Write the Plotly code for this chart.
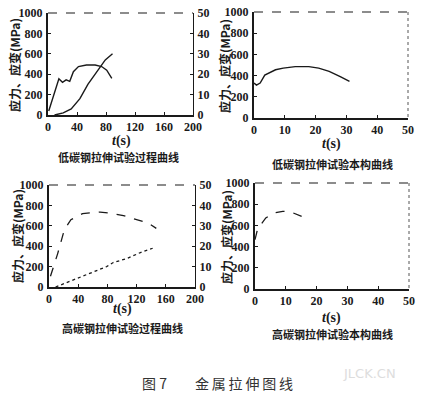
import plotly.graph_objects as go

W, H = 422, 400

# --- data ---
low_proc_t = [1, 8, 15, 20, 25, 30, 35, 42, 53, 65, 74, 81, 88]
low_proc_stress = [40, 200, 355, 320, 345, 330, 425, 475, 490, 490, 475, 440, 360]
low_proc_strain_t = [9, 21, 32, 44, 55, 67, 79, 89]
low_proc_strain = [0, 1, 3, 8, 15, 21, 27, 30]

low_spec_t = [0, 0.8, 2, 3.5, 7, 9.5, 13.4, 17.8, 21, 24.4, 28, 31]
low_spec_stress = [330, 310, 330, 405, 455, 470, 485, 485, 470, 440, 390, 345]

high_proc_t = [2, 12, 21, 30, 46, 70, 84, 102, 116, 135, 147]
high_proc_stress = [105, 330, 560, 660, 720, 735, 725, 700, 670, 630, 575]
high_proc_strain_t = [9, 23, 42, 65, 79, 88, 107, 126, 142]
high_proc_strain = [0, 2, 5, 8, 10, 12, 14, 17, 19]

high_spec_t = [0, 0.8, 1.9, 3.5, 6.2, 9, 11.7, 14.4, 17.2]
high_spec_stress = [465, 560, 607, 670, 717, 733, 726, 695, 660]

y_title = "应力、应变(MPa)"
x_title = "<i>t</i>(s)"
subtitles = ["低碳钢拉伸试验过程曲线", "低碳钢拉伸试验本构曲线",
             "高碳钢拉伸试验过程曲线", "高碳钢拉伸试验本构曲线"]
caption_num = "图 7"
caption_text = "金属拉伸图线"


def px_x(v):
    return v / W


def px_y(v):
    return 1 - v / H


SERIF = "Liberation Serif, Times New Roman, serif"
CJK = "Noto Sans CJK SC"
INK = "#1a1a1a"
tickfont = dict(family=SERIF, size=12, color=INK, weight="bold")

fig = go.Figure()
line = dict(color=INK, width=1.4)

fig.add_trace(go.Scatter(x=low_proc_t, y=low_proc_stress, mode="lines",
                         line=line, xaxis="x", yaxis="y"))
fig.add_trace(go.Scatter(x=low_proc_strain_t, y=low_proc_strain, mode="lines",
                         line=line, xaxis="x", yaxis="y2"))
fig.add_trace(go.Scatter(x=low_spec_t, y=low_spec_stress, mode="lines",
                         line=line, xaxis="x2", yaxis="y3"))
fig.add_trace(go.Scatter(x=high_proc_t, y=high_proc_stress, mode="lines",
                         line=dict(color=INK, width=1.3, dash="dash"),
                         xaxis="x3", yaxis="y4"))
fig.add_trace(go.Scatter(x=high_proc_strain_t, y=high_proc_strain, mode="lines",
                         line=dict(color=INK, width=1.3, dash="dot"),
                         xaxis="x3", yaxis="y5"))
fig.add_trace(go.Scatter(x=high_spec_t, y=high_spec_stress, mode="lines",
                         line=dict(color=INK, width=1.3, dash="dash"),
                         xaxis="x4", yaxis="y6"))

# panel boxes in page pixels: left, right, top, bottom
boxes = [(48, 193, 13, 115), (254, 408, 12, 118),
         (49, 195, 185, 287), (255, 409, 183, 289)]


def xax(box, anchor, rng, dtick):
    return dict(domain=[px_x(box[0]), px_x(box[1])], anchor=anchor,
                range=rng, dtick=dtick, showline=True, linewidth=2,
                linecolor=INK, ticks="inside", ticklen=3, tickcolor=INK,
                showgrid=False, zeroline=False, tickfont=tickfont,
                fixedrange=True, automargin=False, ticklabeloverflow="allow")


def yax(box, anchor, rng, dtick, side="left", overlay=None):
    d = dict(domain=[px_y(box[3]), px_y(box[2])], anchor=anchor,
             range=rng, dtick=dtick, showline=True,
             linewidth=2 if side == "left" else 1.2,
             linecolor=INK, ticks="inside", ticklen=3, tickcolor=INK,
             showgrid=False, zeroline=False, tickfont=tickfont, side=side,
             ticklabelstandoff=1, automargin=False, ticklabeloverflow="allow")
    if overlay:
        d["overlaying"] = overlay
    return d


fig.update_layout(
    width=W, height=H, margin=dict(l=0, r=0, t=0, b=0),
    paper_bgcolor="white", plot_bgcolor="white", showlegend=False,
    xaxis=xax(boxes[0], "y", [0, 200], 40),
    yaxis=yax(boxes[0], "x", [0, 1000], 200),
    yaxis2=yax(boxes[0], "x", [0, 50], 10, side="right", overlay="y"),
    xaxis2=xax(boxes[1], "y3", [0, 50], 10),
    yaxis3=yax(boxes[1], "x2", [0, 1000], 200),
    xaxis3=xax(boxes[2], "y4", [0, 200], 40),
    yaxis4=yax(boxes[2], "x3", [0, 1000], 200),
    yaxis5=yax(boxes[2], "x3", [0, 50], 10, side="right", overlay="y4"),
    xaxis4=xax(boxes[3], "y6", [0, 50], 10),
    yaxis6=yax(boxes[3], "x4", [0, 1000], 200),
)

# top borders (broken in the scan) and dotted right edges for single-axis panels
shapes = []
for i, (l, r, t, b) in enumerate(boxes):
    shapes.append(dict(type="line", xref="paper", yref="paper",
                       x0=px_x(l), x1=px_x(r), y0=px_y(t), y1=px_y(t),
                       line=dict(color=INK, width=1.2, dash="dash")))
    if i in (1, 3):
        shapes.append(dict(type="line", xref="paper", yref="paper",
                           x0=px_x(r), x1=px_x(r), y0=px_y(t), y1=px_y(b),
                           line=dict(color="#555", width=1, dash="dot")))
fig.update_layout(shapes=shapes)

annos = []
ytitle_pos = [(15, 65), (224, 66), (17, 236), (226, 237)]
xtitle_pos = [(121, 141), (331, 144), (122, 309), (331, 318)]
sub_pos = [(118, 157), (332, 164), (122, 328), (332, 334)]
for i in range(4):
    annos.append(dict(text=y_title, x=px_x(ytitle_pos[i][0]), y=px_y(ytitle_pos[i][1]),
                      textangle=-90,
                      font=dict(family=CJK, size=12, color=INK, weight="bold")))
    annos.append(dict(text=x_title, x=px_x(xtitle_pos[i][0]), y=px_y(xtitle_pos[i][1]),
                      font=dict(family=SERIF, size=14, color=INK, weight="bold")))
    annos.append(dict(text=subtitles[i], x=px_x(sub_pos[i][0]), y=px_y(sub_pos[i][1]),
                      font=dict(family=CJK, size=11, color=INK, weight="bold")))
annos.append(dict(text=caption_num, x=px_x(154), y=px_y(383),
                  font=dict(family=CJK, size=14, color="#333")))
annos.append(dict(text="\u2009".join(caption_text), x=px_x(244), y=px_y(383),
                  font=dict(family=CJK, size=14, color="#333")))
annos.append(dict(text="JLCK.CN", x=px_x(369), y=px_y(373),
                  font=dict(family="DejaVu Sans", size=13, color="#dddddd")))
for a in annos:
    a.update(xref="paper", yref="paper", showarrow=False,
             xanchor="center", yanchor="middle")
fig.update_layout(annotations=annos)

# drop the browser's default body margin so the figure fills the window
fig.write_html("out.html", config={"displayModeBar": False},
               post_script="document.body.style.margin = '0';")
